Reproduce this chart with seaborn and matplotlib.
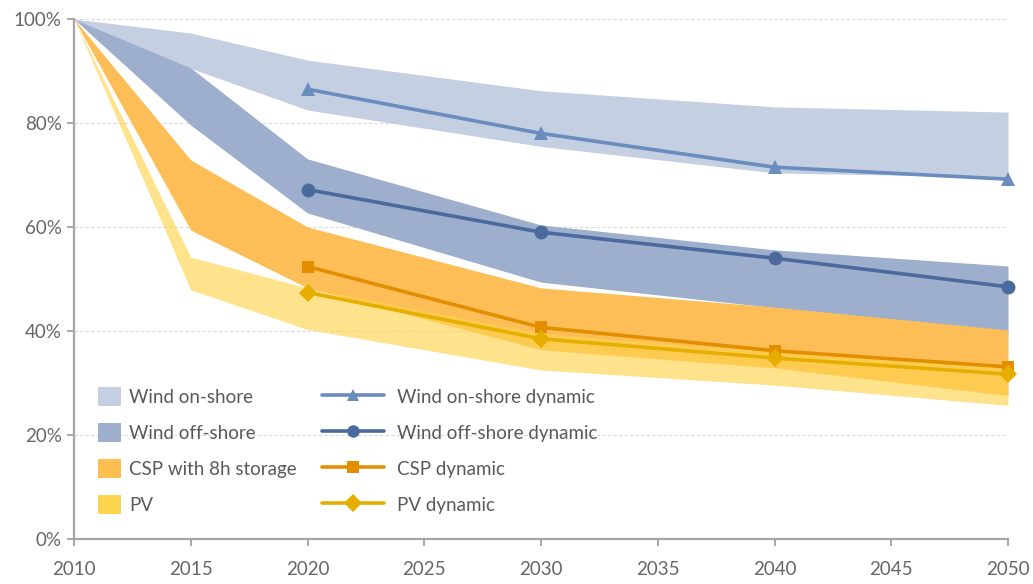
import numpy as np
import pandas as pd
import seaborn as sns
import matplotlib.pyplot as plt
from matplotlib.patches import Patch
from matplotlib.lines import Line2D
from matplotlib.ticker import PercentFormatter

# Band years and ranges (share of 2010 cost)
band_years = [2010, 2015, 2020, 2030, 2040, 2050]
onshore_hi = [1.00, 0.973, 0.921, 0.862, 0.831, 0.821]
onshore_lo = [1.00, 0.905, 0.825, 0.755, 0.704, 0.696]
offshore_hi = [1.00, 0.906, 0.731, 0.604, 0.556, 0.525]
offshore_lo = [1.00, 0.796, 0.627, 0.494, 0.445, 0.395]
csp_hi = [1.00, 0.729, 0.600, 0.483, 0.446, 0.402]
csp_lo = [1.00, 0.594, 0.483, 0.364, 0.329, 0.276]
pv_hi = [1.00, 0.542, 0.483, 0.395, 0.360, 0.335]
pv_lo = [1.00, 0.479, 0.403, 0.325, 0.296, 0.257]

# Dynamic paths
dyn_years = [2020, 2030, 2040, 2050]
onshore_dyn = [0.865, 0.780, 0.715, 0.692]
offshore_dyn = [0.672, 0.590, 0.540, 0.485]
csp_dyn = [0.524, 0.407, 0.362, 0.331]
pv_dyn = [0.474, 0.385, 0.348, 0.317]

band_labels = ['Wind on-shore', 'Wind off-shore', 'CSP with 8h storage', 'PV']
band_colors = ['#C4CFE1', '#9DAFCD', '#FDBE57', '#FFD34F']
line_labels = ['Wind on-shore dynamic', 'Wind off-shore dynamic', 'CSP dynamic', 'PV dynamic']
line_colors = ['#6A8CBF', '#4A6A9E', '#E38D00', '#E6AE00']
line_markers = ['^', 'o', 's', 'D']

sns.set_theme(style='white')
plt.rcParams['font.family'] = ['Lato', 'DejaVu Sans']

fig = plt.figure(figsize=(10.33, 5.84), dpi=100)
ax = fig.add_axes([74 / 1033, 45 / 584, 934 / 1033, 520 / 584])

bands = [(onshore_lo, onshore_hi), (offshore_lo, offshore_hi), (csp_lo, csp_hi), (pv_lo, pv_hi)]
for (lo, hi), c, a in zip(bands, band_colors, [1, 1, 1, 0.65]):
    ax.fill_between(band_years, lo, hi, color=c, alpha=a, linewidth=0, zorder=2)

dyn = pd.DataFrame({'year': dyn_years * 4,
                    'value': onshore_dyn + offshore_dyn + csp_dyn + pv_dyn,
                    'series': np.repeat(line_labels, 4)})
sns.lineplot(data=dyn, x='year', y='value', hue='series', style='series',
             palette=dict(zip(line_labels, line_colors)),
             markers=dict(zip(line_labels, line_markers)), dashes=False,
             linewidth=2.6, markersize=10, markeredgewidth=0, legend=False,
             ax=ax, zorder=4)
for ln, m in zip(ax.lines, line_markers):
    ln.set_clip_on(False)
    if m in ('s', 'D'):
        ln.set_markersize(9)

ax.set_xlim(2010, 2050)
ax.set_ylim(0, 1)
ax.set_xticks(range(2010, 2051, 5))
ax.set_yticks(np.arange(0, 1.01, 0.2))
ax.yaxis.set_major_formatter(PercentFormatter(1.0, decimals=0))
ax.set_xlabel('')
ax.set_ylabel('')
ax.grid(axis='y', color='#D9D9D9', linestyle=(0, (3, 2)), linewidth=0.8, zorder=0)
ax.set_axisbelow(True)
for s in ['top', 'right']:
    ax.spines[s].set_visible(False)
for s in ['left', 'bottom']:
    ax.spines[s].set_color('#A6A6A6')
    ax.spines[s].set_linewidth(1.6)
ax.tick_params(axis='both', which='major', direction='out', length=5, width=1.4,
               color='#A6A6A6', labelcolor='#666666', labelsize=13.5,
               left=True, bottom=True)
ax.tick_params(axis='x', pad=11)
ax.tick_params(axis='y', pad=4)

patch_handles = [Patch(facecolor=c, edgecolor='none') for c in
                 ['#C4CFE1', '#9DAFCD', '#FFBF50', '#FFD550']]
leg1 = ax.legend(patch_handles, band_labels, loc='upper left',
                 bbox_to_anchor=(24 / 934, 152 / 520), frameon=False,
                 fontsize=13.5, handlelength=1.2, handleheight=1.2,
                 handletextpad=0.45, labelspacing=0.89, borderpad=0, borderaxespad=0,
                 labelcolor='#595959')
ax.add_artist(leg1)
line_handles = [Line2D([0], [0], color=c, marker=m, lw=2.6, markersize=9, markeredgewidth=0)
                for c, m in zip(line_colors, line_markers)]
ax.legend(line_handles, line_labels, loc='upper left',
          bbox_to_anchor=(248 / 934, 152 / 520), frameon=False,
          fontsize=13.5, handlelength=3.3, handleheight=1.2,
          handletextpad=0.7, labelspacing=0.89, borderpad=0, borderaxespad=0,
          labelcolor='#595959')

fig.savefig('out.png', dpi=100)
